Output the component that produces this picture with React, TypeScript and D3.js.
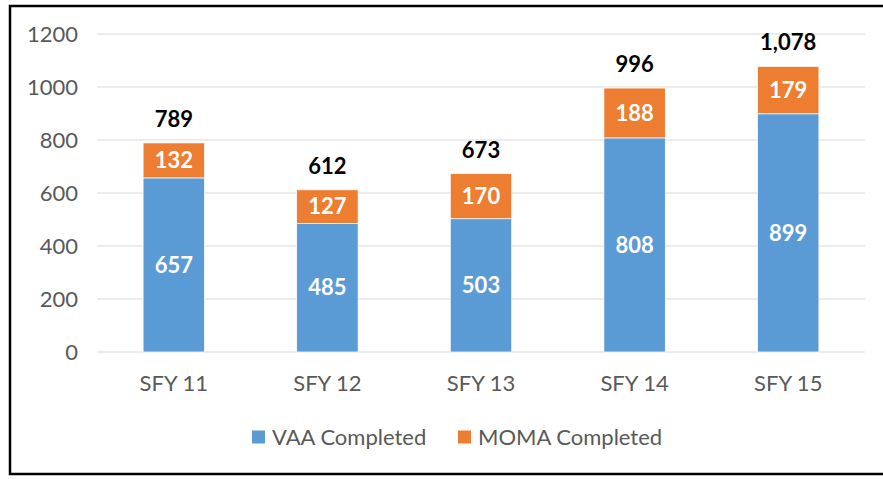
import React, { useEffect, useRef } from 'react';
import * as d3 from 'd3';

const categories = ['SFY 11', 'SFY 12', 'SFY 13', 'SFY 14', 'SFY 15'];
const vaaCompleted = [657, 485, 503, 808, 899];
const momaCompleted = [132, 127, 170, 188, 179];
const yTicks = [0, 200, 400, 600, 800, 1000, 1200];
const seriesNames = ['VAA Completed', 'MOMA Completed'];
const colors = ['#5B9BD5', '#ED7D31'];

const App = () => {
  const ref = useRef<SVGSVGElement>(null);

  useEffect(() => {
    const width = 883;
    const height = 479;
    const margin = { top: 34, right: 18, bottom: 127, left: 97 };
    const font = 'Lato, Carlito, Calibri, sans-serif';

    const svg = d3.select(ref.current);
    svg.selectAll('*').remove();
    svg.attr('width', width).attr('height', height);

    svg
      .append('rect')
      .attr('x', 10)
      .attr('y', 6)
      .attr('width', width + 10)
      .attr('height', 468)
      .attr('fill', '#fff')
      .attr('stroke', '#000')
      .attr('stroke-width', 2.5);

    const x = d3
      .scaleBand()
      .domain(categories)
      .range([margin.left, width - margin.right])
      .paddingInner(0.6)
      .paddingOuter(0.3);

    const y = d3
      .scaleLinear()
      .domain([0, 1200])
      .range([height - margin.bottom, margin.top]);

    // gridlines
    svg
      .append('g')
      .selectAll('line')
      .data(yTicks)
      .join('line')
      .attr('x1', margin.left)
      .attr('x2', width - margin.right)
      .attr('y1', d => y(d))
      .attr('y2', d => y(d))
      .attr('stroke', '#D9D9D9')
      .attr('stroke-width', 1);

    // y tick labels
    svg
      .append('g')
      .selectAll('text')
      .data(yTicks)
      .join('text')
      .attr('x', 78)
      .attr('y', d => y(d))
      .attr('dy', '0.35em')
      .attr('text-anchor', 'end')
      .attr('font-family', font)
      .attr('font-size', 22)
      .attr('fill', '#595959')
      .text(d => d);

    const stackData = categories.map((c, i) => ({
      cat: c,
      vaa: vaaCompleted[i],
      moma: momaCompleted[i],
    }));
    const stacked = d3.stack<any>().keys(['vaa', 'moma'])(stackData);

    const groups = svg
      .append('g')
      .selectAll('g')
      .data(stacked)
      .join('g')
      .attr('fill', (d, i) => colors[i]);

    groups
      .selectAll('rect')
      .data(d => d)
      .join('rect')
      .attr('x', d => x(d.data.cat)!)
      .attr('y', d => y(d[1]))
      .attr('width', x.bandwidth())
      .attr('height', d => y(d[0]) - y(d[1]))
      .attr('stroke', '#fff')
      .attr('stroke-width', 0.75);

    groups
      .selectAll('text')
      .data(d => d)
      .join('text')
      .attr('x', d => x(d.data.cat)! + x.bandwidth() / 2)
      .attr('y', d => (y(d[0]) + y(d[1])) / 2)
      .attr('dy', '0.35em')
      .attr('text-anchor', 'middle')
      .attr('font-family', font)
      .attr('font-size', 22)
      .attr('font-weight', 'bold')
      .attr('fill', '#fff')
      .text(d => d[1] - d[0]);

    // totals
    svg
      .append('g')
      .selectAll('text')
      .data(stackData)
      .join('text')
      .attr('x', d => x(d.cat)! + x.bandwidth() / 2)
      .attr('y', d => y(d.vaa + d.moma) - 16)
      .attr('text-anchor', 'middle')
      .attr('font-family', font)
      .attr('font-size', 22)
      .attr('font-weight', 'bold')
      .attr('fill', '#000')
      .text(d => d3.format(',')(d.vaa + d.moma));

    // x labels
    svg
      .append('g')
      .selectAll('text')
      .data(categories)
      .join('text')
      .attr('x', d => x(d)! + x.bandwidth() / 2)
      .attr('y', 383)
      .attr('dy', '0.35em')
      .attr('text-anchor', 'middle')
      .attr('font-family', font)
      .attr('font-size', 22)
      .attr('fill', '#595959')
      .text(d => d);

    // legend
    const legendX = [252, 458];
    const legend = svg
      .append('g')
      .selectAll('g')
      .data(seriesNames)
      .join('g')
      .attr('transform', (d, i) => `translate(${legendX[i]},437)`);
    legend
      .append('rect')
      .attr('x', 0)
      .attr('y', -6.5)
      .attr('width', 13)
      .attr('height', 13)
      .attr('fill', (d, i) => colors[i]);
    legend
      .append('text')
      .attr('x', 20)
      .attr('y', 0)
      .attr('dy', '0.35em')
      .attr('font-family', font)
      .attr('font-size', 22)
      .attr('fill', '#595959')
      .text(d => d);
  }, []);

  return (
    <div style={{ position: 'absolute', left: 0, top: 0 }}>
      <svg ref={ref} style={{ display: 'block' }}></svg>
    </div>
  );
};

export default App;
